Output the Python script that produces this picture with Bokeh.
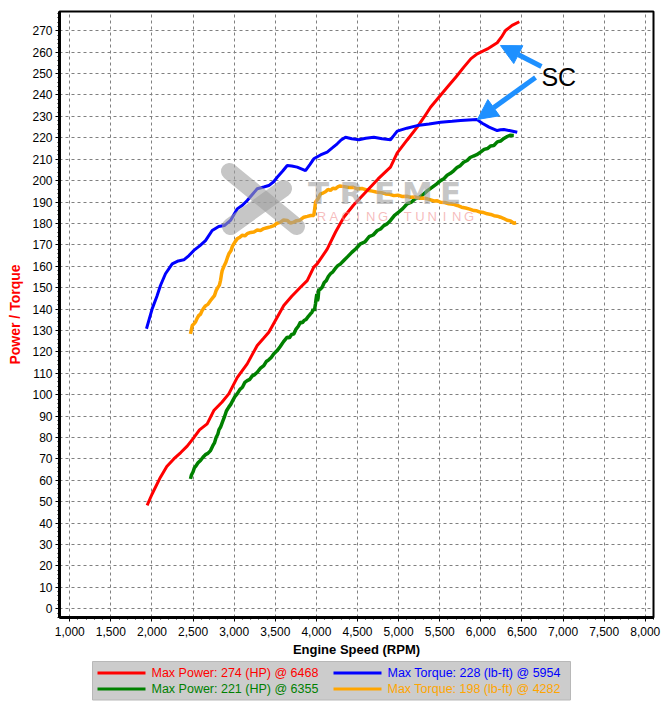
from bokeh.plotting import figure
from bokeh.layouts import column
from bokeh.models import Range1d, FixedTicker, NumeralTickFormatter, Arrow, NormalHead, Label
from bokeh.core.properties import value
from bokeh.embed import file_html
from bokeh.resources import INLINE

# ---------------- data ----------------
red_rpm = [1941, 2000, 2103, 2180, 2265, 2350, 2428, 2500, 2578, 2671, 2752, 2850, 2934, 3036, 3158,
           3280, 3360, 3421, 3523, 3603, 3700, 3806, 3888, 3968, 4009, 4131, 4233, 4333, 4450, 4618,
           4750, 4901, 4983, 5104, 5226, 5307, 5388, 5469, 5591, 5700, 5793, 5880, 5956, 6080, 6199,
           6250, 6300, 6380, 6468]
red_hp = [48.3, 53.5, 61.5, 66.5, 70, 73, 76, 79.5, 83.6, 86.4, 92.6, 96.5, 100.4, 108, 114.4,
          123, 126.5, 129.2, 136.2, 141.7, 146, 150.2, 153.3, 159.6, 161.1, 168, 176, 182.9, 188.5, 195.4,
          200.8, 206.3, 213, 219, 225, 229.5, 234.3, 238, 243.6, 248.5, 253, 257, 259.2, 261.5, 264.4,
          267, 270.1, 272.5, 274.2]

blue_rpm = [1933, 2002, 2060, 2103, 2164, 2246, 2320, 2387, 2450, 2509, 2580, 2651, 2732, 2812, 2880,
            2955, 3036, 3100, 3158, 3220, 3280, 3360, 3421, 3480, 3523, 3590, 3645, 3700, 3766, 3867,
            3920, 3968, 4050, 4131, 4200, 4253, 4300, 4354, 4430, 4516, 4600, 4698, 4800, 4901, 4940,
            4983, 5100, 5226, 5370, 5510, 5650, 5753, 5850, 5954, 6017, 6100, 6199, 6240, 6280, 6360, 6443]
blue_tq = [130.8, 140.1, 146, 151, 156.5, 161.1, 162.5, 163, 165, 167.4, 169.5, 172, 176.7, 178.6, 179,
           181.4, 186.8, 188.5, 190.7, 193.5, 196.2, 197, 197.7, 199.5, 201.6, 204.5, 207.1, 206.8, 206.3, 204.7,
           207.5, 210.2, 212, 213.3, 215.5, 217.2, 219, 220.3, 219.6, 219.1, 219.8, 220.3, 219.6, 219.1, 221,
           223.1, 224.5, 225.7, 226.5, 227.3, 227.7, 228.1, 228.3, 228.5, 226.8, 225, 223.4, 223.8, 223.9, 223.3, 222.6]

green_rpm = [2468, 2480, 2500, 2515, 2530, 2560, 2590, 2620, 2650, 2680, 2712, 2740, 2760, 2780, 2800,
             2815, 2833, 2860, 2880, 2905, 2934, 2960, 2985, 3010, 3036, 3070, 3100, 3130, 3158, 3190,
             3220, 3250, 3280, 3320, 3360, 3390, 3420, 3450, 3482, 3520, 3560, 3600, 3645, 3670, 3700,
             3725, 3750, 3780, 3806, 3830, 3850, 3875, 3900, 3928, 3945, 3960, 3975, 3989, 3995, 4005,
             4012, 4020, 4030, 4040, 4070, 4095, 4120, 4145, 4171, 4200, 4230, 4260, 4293, 4333, 4380,
             4430, 4480, 4536, 4590, 4640, 4690, 4740, 4780, 4820, 4860, 4901, 4950, 5000, 5050, 5104,
             5150, 5200, 5250, 5307, 5360, 5410, 5460, 5510, 5550, 5590, 5630, 5672, 5710, 5750, 5790,
             5834, 5870, 5910, 5950, 5996, 6040, 6080, 6120, 6158, 6200, 6240, 6280, 6321, 6355, 6401]
green_hp = [60.7, 62.5, 64, 65.8, 66.5, 68.2, 69.3, 70.8, 72, 72.6, 73.9, 76.2, 77.5, 80, 81.5,
            83.7, 84.8, 87.5, 89.5, 92.4, 94.2, 95.6, 97.5, 99.2, 100.4, 102.5, 103.5, 105.8, 106.6, 107.2,
            108.8, 109.4, 110.5, 112.4, 113.6, 115.5, 116.3, 117.4, 119.1, 120.5, 122.5, 124.8, 126.9, 126.5, 128.2,
            128.4, 130.5, 132, 133.9, 133.6, 134.7, 135.2, 136.5, 137.8, 138.4, 140, 139.2, 142.5, 144.5, 147.1,
            143.8, 145, 149.5, 149, 150.2, 152.4, 153.3, 155.2, 156.5, 157.4, 159, 160.3, 161.1, 162.7, 164.5,
            166.5, 168.2, 170.5, 171.4, 173.8, 174.6, 176.7, 177.4, 179, 179.8, 181.4, 183.8, 185.3, 186.9, 189.2,
            189.8, 191.5, 192.2, 193.8, 195.6, 197, 198.4, 200, 200.9, 202.5, 203.4, 204.7, 206.1, 207, 208.6,
            209.4, 210.8, 211.5, 212.1, 213.3, 214.6, 215, 216.2, 216.4, 218.1, 218.5, 219.7, 220.6, 221.2, 221.1]

orange_rpm = [2468, 2480, 2490, 2510, 2530, 2550, 2569, 2590, 2610, 2630, 2650, 2680, 2712, 2735, 2760,
              2780, 2800, 2820, 2833, 2845, 2854, 2880, 2900, 2920, 2935, 2960, 2980, 3010, 3036, 3070,
              3100, 3130, 3158, 3200, 3240, 3280, 3320, 3360, 3400, 3440, 3482, 3520, 3560, 3600, 3645,
              3685, 3725, 3760, 3800, 3847, 3890, 3930, 3968, 3978, 3990, 4020, 4050, 4080, 4110, 4140,
              4171, 4200, 4230, 4260, 4282, 4340, 4400, 4450, 4497, 4560, 4620, 4680, 4740, 4790, 4842,
              4890, 4942, 4990, 5045, 5100, 5145, 5200, 5250, 5300, 5348, 5390, 5430, 5470, 5510, 5560,
              5610, 5660, 5713, 5765, 5815, 5865, 5915, 5950, 5990, 6035, 6078, 6120, 6160, 6200, 6239,
              6280, 6320, 6360, 6401, 6430]
orange_tq = [128.4, 130.5, 132.3, 133.1, 134, 135.8, 137, 137.6, 139.3, 140.5, 141.5, 142.2, 144, 145.1, 146.3,
             148.6, 150, 151.2, 153.3, 156.2, 158, 160.4, 162, 164.3, 165.8, 167.2, 169.5, 171.4, 172.8, 173.6,
             174.5, 174.2, 175.2, 175.8, 176, 176.9, 176.7, 177.6, 178, 178.4, 179, 180.1, 180.5, 181.6, 181.4,
             180.2, 180.6, 181.3, 181.5, 182.9, 183.3, 183.7, 183.7, 186.5, 190, 191.6, 193.8, 194.2, 194.8, 195.9,
             195.4, 196.5, 196.2, 197.1, 197.5, 197.2, 196.8, 196.9, 196.2, 196.3, 195.5, 195.1, 194.6, 194.4, 193.8,
             193.6, 193, 193.2, 192.6, 192.7, 192.2, 192.4, 191.8, 191.9, 191.5, 191, 190.5, 190.6, 189.9, 189.8,
             189.2, 189, 188.4, 187.6, 187.2, 186.7, 186, 185.9, 185.3, 185.1, 184.5, 184.2, 183.6, 183.4, 182.9,
             182.3, 181.5, 181.2, 180.1, 180.3]

x_ticks = [1000, 1500, 2000, 2500, 3000, 3500, 4000, 4500, 5000, 5500, 6000, 6500, 7000, 7500, 8000]
y_ticks = list(range(0, 280, 10))

legend_labels = ["Max Power: 274 (HP) @ 6468", "Max Torque: 228 (lb-ft) @ 5954",
                 "Max Power: 221 (HP) @ 6355", "Max Torque: 198 (lb-ft) @ 4282"]

# annotation anchor points (data units)
arrow_tip_x = [6239, 5959]
arrow_tip_y = [263.1, 228.6]
arrow_tail_x = [6737, 6665]
arrow_tail_y = [253.3, 248.2]
sc_x, sc_y = 6737, 248.6

RED, BLUE, GREEN, ORANGE = "#ff0000", "#0000ff", "#008000", "#ffa500"
FONT = "Liberation Sans"

# ---------------- main figure ----------------
X0, X1, Y0, Y1 = 875, 8100, -4.06, 279
p = figure(width=663, height=660, output_backend="svg", toolbar_location=None,
           x_range=Range1d(X0, X1), y_range=Range1d(Y0, Y1),
           min_border_left=59, min_border_right=10, min_border_top=11, min_border_bottom=43)
p.background_fill_color = "white"
p.border_fill_color = "white"
p.outline_line_color = "black"
p.outline_line_width = 2

for ax in (p.xaxis[0], p.yaxis[0]):
    ax.axis_line_width = 3
    ax.axis_line_color = "black"
    ax.major_tick_out = 4
    ax.major_tick_in = 0
    ax.minor_tick_out = 2
    ax.minor_tick_in = 0
    ax.major_tick_line_color = "black"
    ax.minor_tick_line_color = "black"
    ax.major_label_text_font = FONT
    ax.major_label_text_font_size = "12px"
    ax.major_label_text_color = "black"
    ax.axis_label_text_font = FONT
    ax.axis_label_text_font_style = "bold"

p.xaxis.ticker = FixedTicker(ticks=x_ticks, minor_ticks=list(range(1000, 8101, 100)))
p.yaxis.ticker = FixedTicker(ticks=y_ticks, minor_ticks=[v for v in range(-4, 279, 2)])
p.xaxis.formatter = NumeralTickFormatter(format="0,0")
p.xaxis.major_label_standoff = 5
p.yaxis.major_label_standoff = 3
p.xaxis.axis_label = "Engine Speed (RPM)"
p.xaxis.axis_label_text_font_size = "13px"
p.xaxis.axis_label_text_color = "black"
p.xaxis.axis_label_standoff = 3
p.yaxis.axis_label = "Power / Torque"
p.yaxis.axis_label_text_font_size = "14px"
p.yaxis.axis_label_text_color = RED
p.yaxis.axis_label_standoff = 6

p.grid.grid_line_color = "#808080"
p.grid.grid_line_dash = "3 3"
p.grid.grid_line_width = 1

p.line(green_rpm, green_hp, line_color=GREEN, line_width=3.5)
p.line(orange_rpm, orange_tq, line_color=ORANGE, line_width=3.5)
p.line(red_rpm, red_hp, line_color=RED, line_width=3)
p.line(blue_rpm, blue_tq, line_color=BLUE, line_width=3)

# ---------------- watermark (drawn over the curves) ----------------
def px2x(px):
    return X0 + (px - 59) * (X1 - X0) / 594.0

def px2y(py):
    return Y1 - (py - 11) * (Y1 - Y0) / 606.0

p.multi_line(xs=[[px2x(229), px2x(296)], [px2x(230), px2x(283)]],
             ys=[[px2y(171), px2y(226)], [px2y(226), px2y(188)]],
             line_color="#a0a0a0", line_alpha=0.6, line_width=17, line_cap="round")
treme = ["T", "R", "E", "M", "E"]
p.text(x=[px2x(318 + i * 33) for i in range(5)], y=[px2y(192)] * 5, text=treme,
       text_font=value("DejaVu Sans"), text_font_style="bold", text_font_size="31px",
       text_color="#a0a0a0", text_alpha=0.6, text_align="center", text_baseline="middle")
racing = list("RACING TUNING")
rx = [px2x(321 + i * 12.3) for i, c in enumerate(racing) if c != " "]
rt = [c for c in racing if c != " "]
p.text(x=rx, y=[px2y(216)] * len(rt), text=rt, text_font=value(FONT), text_font_size="13px",
       text_color="#f09090", text_alpha=0.6, text_align="center", text_baseline="middle")

# ---------------- SC annotation ----------------
for i in range(2):
    p.add_layout(Arrow(x_start=arrow_tail_x[i], y_start=arrow_tail_y[i],
                       x_end=arrow_tip_x[i], y_end=arrow_tip_y[i],
                       line_color="#1e90ff", line_width=5,
                       end=NormalHead(size=20, fill_color="#1e90ff", line_color="#1e90ff", line_width=1)))
p.add_layout(Label(x=sc_x, y=sc_y, text="SC", text_font=FONT, text_font_size="25px",
                   text_color="black", text_align="left", text_baseline="middle"))

# ---------------- legend strip (frame aligned with the main frame: x in page pixels) ----------------
q = figure(width=663, height=48, output_backend="svg", toolbar_location=None,
           x_axis_type=None, y_axis_type=None,
           x_range=Range1d(59, 653), y_range=Range1d(48, 0),
           min_border_left=59, min_border_right=10, min_border_top=0, min_border_bottom=0)
q.grid.visible = False
q.outline_line_color = None
q.background_fill_color = "white"
q.border_fill_color = "white"
q.quad(left=[92], right=[570], top=[1], bottom=[39.5], fill_color="#cccccc", line_color="#b8b8b8")
leg_colors = [RED, BLUE, GREEN, ORANGE]
leg_x0 = [97, 333, 97, 333]
leg_y = [12.5, 12.5, 28.5, 28.5]
q.segment(x0=leg_x0, y0=leg_y, x1=[v + 48 for v in leg_x0], y1=leg_y, line_color=leg_colors, line_width=3)
q.text(x=[v + 54 for v in leg_x0], y=leg_y, text=legend_labels, text_color=leg_colors,
       text_font=value(FONT), text_font_size="12.5px", text_baseline="middle", text_align="left")

layout = column(p, q, spacing=0)
open("out.html", "w").write(file_html(layout, INLINE))
